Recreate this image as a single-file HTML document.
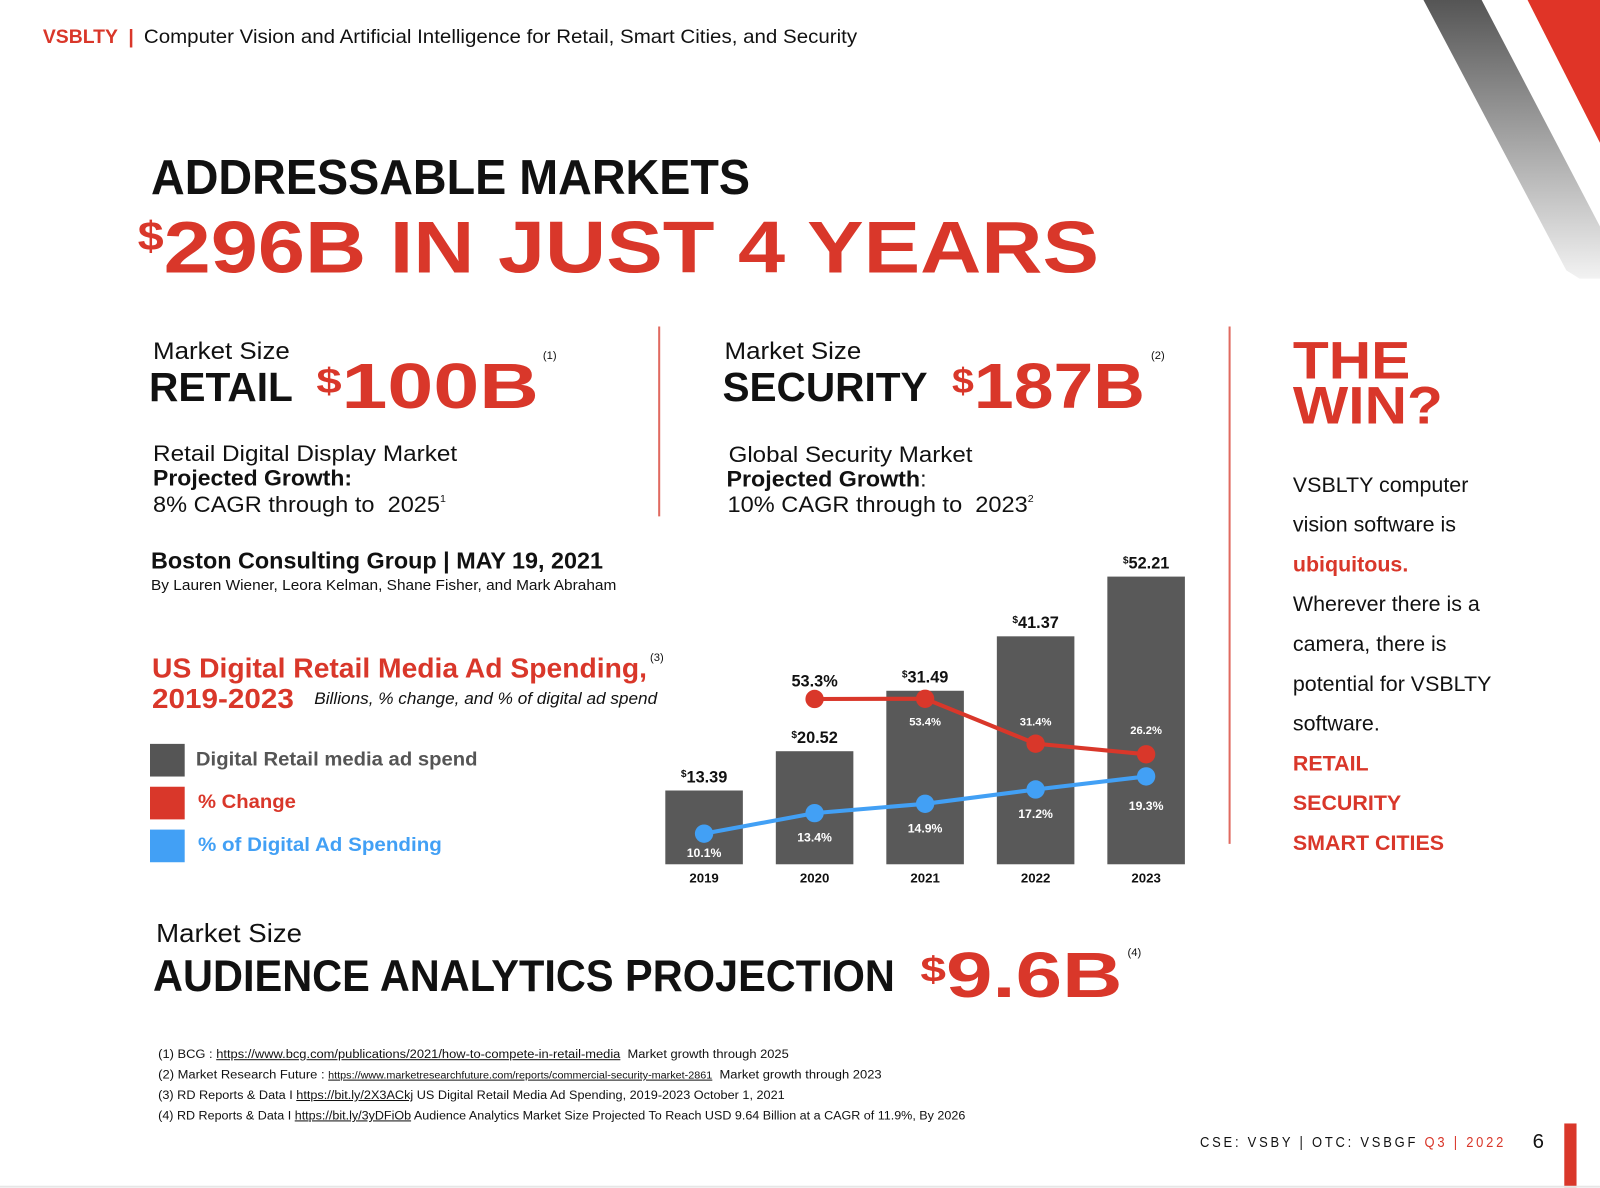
<!DOCTYPE html>
<html><head><meta charset="utf-8"><style>
html,body{margin:0;padding:0;background:#fff;}
body{width:1600px;height:1188px;overflow:hidden;position:relative;font-family:"Liberation Sans",sans-serif;}
#stage{position:absolute;left:0;top:0;width:1568px;height:1164px;transform:scale(1.020408);transform-origin:0 0;}
.t{position:absolute;line-height:1;white-space:nowrap;color:#111;transform-origin:0 50%;}
.r{color:#d9372a}.b{font-weight:bold}
sup{font-size:45%;vertical-align:top;position:relative;top:0.15em}
</style></head><body>
<div id="stage">
<svg style="position:absolute;left:0;top:0" width="1568" height="1164">
<defs><linearGradient id="gg" x1="0" y1="0" x2="0" y2="1"><stop offset="0" stop-color="#555"/><stop offset="1" stop-color="#f2f2f2"/></linearGradient></defs>
<polygon points="1395,0 1452,0 1568,222 1568,273 1548,273 1535,265" fill="url(#gg)"/>
<polygon points="1497,0 1568,0 1568,140" fill="#e03427"/>
<line x1="646" y1="320" x2="646" y2="506" stroke="#e06a60" stroke-width="2"/>
<line x1="1205" y1="320" x2="1205" y2="827" stroke="#e06a60" stroke-width="2"/>
<rect x="1533" y="1101" width="12" height="63" fill="#d9372a"/>
<line x1="0" y1="1163" x2="1568" y2="1163" stroke="#e6e6e6" stroke-width="2"/>
</svg>

<div class="t r b" style="left:42px;top:27px;font-size:19px">VSBLTY &nbsp;|</div>
<div class="t" style="left:141px;top:27px;font-size:19px" data-w="699">Computer Vision and Artificial Intelligence for Retail, Smart Cities, and Security</div>

<div class="t b" style="left:148px;top:151px;font-size:48px" data-w="587">ADDRESSABLE MARKETS</div>
<div class="t r b" style="left:135px;top:207px;font-size:72px" data-w="942"><sup style="font-size:55%">$</sup>296B IN JUST 4 YEARS</div>

<div class="t" style="left:150px;top:333px;font-size:24px" data-w="134">Market Size</div>
<div class="t b" style="left:146px;top:360px;font-size:40px" data-w="141">RETAIL</div>
<div class="t r b" style="left:310px;top:348px;font-size:63px" data-w="218"><sup style="font-size:55%;top:0.25em">$</sup>100B</div>
<div class="t" style="left:532px;top:344px;font-size:11px">(1)</div>
<div class="t" style="left:150px;top:434px;font-size:22px" data-w="298">Retail Digital Display Market</div>
<div class="t b" style="left:150px;top:458px;font-size:22px" data-w="195">Projected Growth:</div>
<div class="t" style="left:150px;top:484px;font-size:22px" data-w="287">8% CAGR through to &nbsp;2025<sup>1</sup></div>

<div class="t" style="left:710px;top:333px;font-size:24px" data-w="134">Market Size</div>
<div class="t b" style="left:708px;top:360px;font-size:40px" data-w="201">SECURITY</div>
<div class="t r b" style="left:933px;top:348px;font-size:63px" data-w="189"><sup style="font-size:55%;top:0.25em">$</sup>187B</div>
<div class="t" style="left:1128px;top:344px;font-size:11px">(2)</div>
<div class="t" style="left:714px;top:435px;font-size:22px" data-w="239">Global Security Market</div>
<div class="t" style="left:712px;top:459px;font-size:22px" data-w="196"><b>Projected Growth</b>:</div>
<div class="t" style="left:713px;top:484px;font-size:22px" data-w="300">10% CAGR through to &nbsp;2023<sup>2</sup></div>

<div class="t b" style="left:148px;top:538px;font-size:23px" data-w="443">Boston Consulting Group | MAY 19, 2021</div>
<div class="t" style="left:148px;top:566px;font-size:14px" data-w="456">By Lauren Wiener, Leora Kelman, Shane Fisher, and Mark Abraham</div>

<div class="t r b" style="left:149px;top:642px;font-size:27px" data-w="485">US Digital Retail Media Ad Spending,</div>
<div class="t" style="left:637px;top:640px;font-size:11px">(3)</div>
<div class="t r b" style="left:149px;top:672px;font-size:27px" data-w="139">2019-2023</div>
<div class="t" style="left:308px;top:678px;font-size:16px;font-style:italic" data-w="336">Billions, % change, and % of digital ad spend</div>

<div style="position:absolute;left:147px;top:729px;width:34px;height:32px;background:#555"></div>
<div style="position:absolute;left:147px;top:771px;width:34px;height:32px;background:#d9372a"></div>
<div style="position:absolute;left:147px;top:813px;width:34px;height:32px;background:#42a0f5"></div>
<div class="t b" style="left:192px;top:735px;font-size:19px;color:#555" data-w="276">Digital Retail media ad spend</div>
<div class="t b r" style="left:194px;top:777px;font-size:19px" data-w="96">% Change</div>
<div class="t b" style="left:194px;top:819px;font-size:19px;color:#42a0f5" data-w="239">% of Digital Ad Spending</div>

<svg id="chart" style="position:absolute;left:0;top:0" width="1568" height="1164"></svg>

<div class="t r b" style="left:1267px;top:332px;font-size:52px;line-height:44px" data-w="147">THE<br>WIN?</div>
<div style="position:absolute;left:1267px;top:456px;font-size:21px;line-height:39px;color:#111;white-space:nowrap">
VSBLTY computer<br>vision software is<br><span class="r b">ubiquitous.</span><br>Wherever there is a<br>camera, there is<br>potential for VSBLTY<br>software.<br>
<span class="r b">RETAIL</span><br><span class="r b">SECURITY</span><br><span class="r b">SMART CITIES</span></div>

<div class="t" style="left:153px;top:903px;font-size:25px" data-w="143">Market Size</div>
<div class="t b" style="left:150px;top:935px;font-size:44px" data-w="727">AUDIENCE ANALYTICS PROJECTION</div>
<div class="t r b" style="left:902px;top:925px;font-size:63px" data-w="198"><sup style="font-size:55%;top:0.25em">$</sup>9.6B</div>
<div class="t" style="left:1105px;top:929px;font-size:11px">(4)</div>

<div class="t" style="left:155px;top:1027px;font-size:12px" data-w="618">(1) BCG : <u>https://www.bcg.com/publications/2021/how-to-compete-in-retail-media</u>&nbsp; Market growth through 2025</div>
<div class="t" style="left:155px;top:1047px;font-size:12px" data-w="709">(2) Market Research Future : <u style="font-size:10px">https://www.marketresearchfuture.com/reports/commercial-security-market-2861</u>&nbsp; Market growth through 2023</div>
<div class="t" style="left:155px;top:1067px;font-size:12px" data-w="614">(3) RD Reports &amp; Data I <u>https://bit.ly/2X3ACkj</u> US Digital Retail Media Ad Spending, 2019-2023 October 1, 2021</div>
<div class="t" style="left:155px;top:1087px;font-size:12px" data-w="791">(4) RD Reports &amp; Data I <u>https://bit.ly/3yDFiOb</u> Audience Analytics Market Size Projected To Reach USD 9.64 Billion at a CAGR of 11.9%, By 2026</div>

<div class="t" style="left:1176px;top:1112px;font-size:14px;letter-spacing:3px" data-w="300">CSE: VSBY | OTC: VSBGF <span class="r">Q3 | 2022</span></div>
<div class="t" style="left:1502px;top:1109px;font-size:20px">6</div>
</div>
<script>
const years=["2019","2020","2021","2022","2023"];
const spend=[13.39,20.52,31.49,41.37,52.21];
const spendLabels=["13.39","20.52","31.49","41.37","52.21"];
const changeYears=["2020","2021","2022","2023"];
const change=[53.3,53.4,31.4,26.2];
const digital=[10.1,13.4,14.9,17.2,19.3];

const svg=document.getElementById('chart');
const NS='http://www.w3.org/2000/svg';
const x0=652,step=108.3,bw=76,base=847;
function xC(i){return x0+i*step+bw/2;}
function yBar(v){return base-v*5.4;}
function yChg(v){return 791.6-v*2;}
function yDig(v){return 878.6-v*6.1;}
function mk(tag,attrs){const e=document.createElementNS(NS,tag);for(const k in attrs)e.setAttribute(k,attrs[k]);svg.appendChild(e);return e;}
function txt(x,y,s,size,fill,name){const e=mk('text',{x:x,y:y,'text-anchor':'middle','font-size':size,fill:fill,'font-weight':'bold','font-family':'Liberation Sans, sans-serif'});e.textContent=s;


return e;}
years.forEach((yr,i)=>{
  const r=mk('rect',{x:x0+i*step,y:yBar(spend[i]),width:bw,height:base-yBar(spend[i]),fill:'#595959'});
  
  
  const t=txt(xC(i),yBar(spend[i])-8,'',16,'#111','bar-value-'+yr);
  const s=document.createElementNS(NS,'tspan');s.setAttribute('font-size','10');s.setAttribute('dy','-5');s.textContent='$';t.appendChild(s);
  const s2=document.createElementNS(NS,'tspan');s2.setAttribute('dy','5');s2.textContent=spendLabels[i];t.appendChild(s2);
  txt(xC(i),865,yr,13,'#111','x-label-'+yr);
});
function line(vals,xs,yf,color,name){
  const pts=vals.map((v,i)=>xs[i]+','+yf(v)).join(' ');
  const p=mk('polyline',{points:pts,fill:'none',stroke:color,'stroke-width':4});
  
  
  vals.forEach((v,i)=>{const c=mk('circle',{cx:xs[i],cy:yf(v),r:9,fill:color});
  
  });
}
const chgX=changeYears.map(y=>xC(years.indexOf(y)));
const digX=years.map((y,i)=>xC(i));
line(change,chgX,yChg,'#d9372a','change-line');
line(digital,digX,yDig,'#42a0f5','digital-line');
change.forEach((v,i)=>{
  if(i===0) txt(chgX[i],yChg(v)-12,v.toFixed(1)+'%',16,'#111','change-label');
  else txt(chgX[i],yChg(v)+(i===1?26:(i===2?-18:-20)),v.toFixed(1)+'%',11,'#fff','change-label');
});
digital.forEach((v,i)=>{txt(digX[i],yDig(v)+(i===0?23:(i===4?33:28)),v.toFixed(1)+'%',12,'#fff','digital-label');});

document.querySelectorAll('[data-w]').forEach(el=>{
  const w=parseFloat(el.getAttribute('data-w'));const cw=el.getBoundingClientRect().width/1.020408;
  if(cw>0) el.style.transform='scaleX('+(w/cw)+')';
});
</script>
</body></html>
